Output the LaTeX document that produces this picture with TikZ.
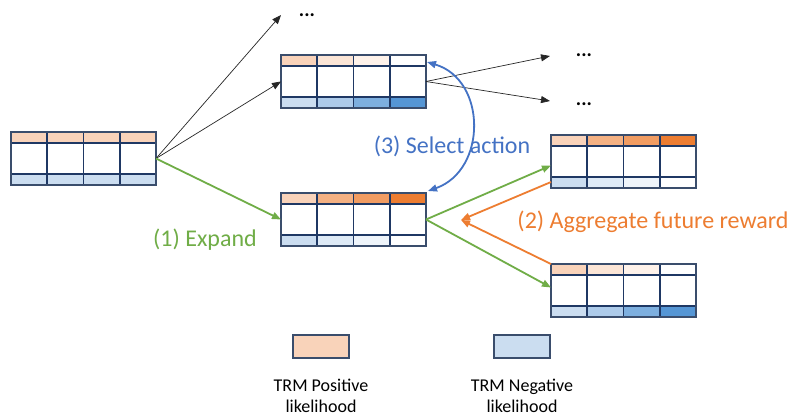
\documentclass[tikz,border=0pt]{standalone}
\usepackage{fontspec}
\setmainfont{Carlito}
\usetikzlibrary{calc,arrows.meta}
\definecolor{oA}{HTML}{F9D3BA}
\definecolor{oB}{HTML}{FBE5D6}
\definecolor{oC}{HTML}{FEF2EA}
\definecolor{oD}{HTML}{F4B183}
\definecolor{oE}{HTML}{F19C62}
\definecolor{oF}{HTML}{ED7D31}
\definecolor{bA}{HTML}{CBDDF0}
\definecolor{bB}{HTML}{DEEAF6}
\definecolor{bC}{HTML}{EEF4FA}
\definecolor{bD}{HTML}{ADCBEA}
\definecolor{bE}{HTML}{7DAFDF}
\definecolor{bF}{HTML}{5596D5}
\definecolor{navy}{HTML}{1F3864}
\definecolor{frame}{HTML}{3A4D6C}
\definecolor{cgreen}{HTML}{70AD47}
\definecolor{corange}{HTML}{ED7D31}
\definecolor{cblue}{HTML}{4472C4}
\definecolor{cblack}{HTML}{262626}
\tikzset{
  tbl/.style={anchor=north west,minimum width=145pt,minimum height=53pt,inner sep=0pt,outer sep=0pt},
  gridline/.style={navy,line width=1.8pt},
  frameline/.style={frame,line width=1.5pt},
  thinarrow/.style={cblack,line width=0.7pt,-{Triangle[length=9pt,width=7pt]}},
  greenarrow/.style={cgreen,line width=1.8pt,-{Triangle[length=9pt,width=7pt]}},
  orangearrow/.style={corange,line width=1.8pt,-{Triangle[length=9pt,width=7pt]}},
  bluearrow/.style={cblue,line width=1.8pt,{Triangle[length=9pt,width=7pt]}-{Triangle[length=9pt,width=7pt]}},
  biglabel/.style={font=\fontsize{24}{28}\selectfont,inner sep=0pt},
  legtext/.style={font=\fontsize{18}{21}\selectfont,align=center,inner sep=0pt},
  dots/.style={font=\fontsize{20}{22}\selectfont\bfseries,inner sep=0pt,anchor=base},
  legbox/.style={draw=frame,line width=1.5pt,minimum width=56pt,minimum height=23pt,inner sep=0pt}
}
\newcommand\trmtab[4]{%
  \node[tbl] (#1) at #2 {};
  \foreach \c [count=\i from 0] in {#3} {
    \fill[fill=\c] ($(#1.north west)+(\i*36.25,0)$) rectangle ++(36.25,11);
  }
  \foreach \c [count=\i from 0] in {#4} {
    \fill[fill=\c] ($(#1.north west)+(\i*36.25,42)$) rectangle ++(36.25,11);
  }
  \draw[gridline] ($(#1.north west)+(0,11)$) -- ++(145,0);
  \draw[gridline] ($(#1.north west)+(0,42)$) -- ++(145,0);
  \foreach \i in {1,2,3} {
    \draw[gridline] ($(#1.north west)+(\i*36.25,0)$) -- ++(0,53);
  }
  \draw[frameline] (#1.north west) rectangle (#1.south east);
}
\begin{document}
\begin{tikzpicture}[x=1pt,y=-1pt]
\useasboundingbox (0,0) rectangle (798,416);
\fill[white] (0,0) rectangle (798,416);

\trmtab{A}{(11,132)}{oA,oA,oA,oA}{bA,bA,bA,bA}
\trmtab{B}{(281,55)}{oA,oB,oC,white}{bA,bD,bE,bF}
\trmtab{C}{(281,193)}{oA,oD,oE,oF}{bA,bB,bC,white}
\trmtab{D}{(551,135)}{oA,oD,oE,oF}{bA,bB,bC,white}
\trmtab{E}{(551,264)}{oA,oB,oC,white}{bA,bD,bE,bF}

% free ends
\coordinate (t1) at (281,15);
\coordinate (r1) at (550,56);
\coordinate (r2) at (550,101);
\coordinate (agg) at (461,220);

\node[dots] (d1) at (307,16) {...};
\node[dots] (d2) at (584,56) {...};
\node[dots] (d3) at (584,105) {...};

% black arrows
\draw[thinarrow] (A.east) -- (t1);
\draw[thinarrow] (A.east) -- (B.west);
\draw[thinarrow] (B.east) -- (r1);
\draw[thinarrow] (B.east) -- (r2);

% green arrows
\draw[greenarrow] (A.east) -- (C.west);
\draw[greenarrow] (C.east) -- ($(D.west)+(0,4)$);
\draw[greenarrow] (C.east) -- ($(E.west)+(0,-3)$);

% orange arrows
\draw[orangearrow] ($(D.south west)+(0,-6)$) -- (agg);
\draw[orangearrow] (E.north west) -- (agg);

% blue curve
\draw[bluearrow] ($(C.north east)+(2,-2)$) .. controls (487,170) and (487,80) .. ($(B.north east)+(1,7)$);

% labels
\node[biglabel,text=cgreen] (l1) at (205,240) {(1) Expand};
\node[biglabel,text=corange] (l2) at (653,222) {(2) Aggregate future reward};
\node[biglabel,text=cblue] (l3) at (452,146) {(3) Select action};

% legend
\node[legbox,fill=oA] (p) at (321,346.5) {};
\node[legbox,fill=bA] (n) at (522,346.5) {};
\node[legtext] (pt) at (321,396) {TRM Positive\\likelihood};
\node[legtext] (nt) at (522,396) {TRM Negative\\likelihood};
\end{tikzpicture}
\end{document}
